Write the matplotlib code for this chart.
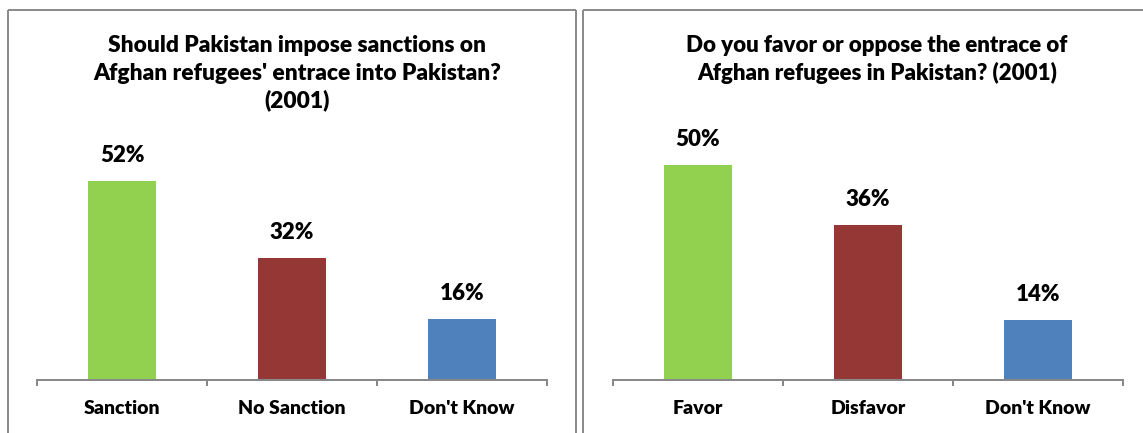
import matplotlib
matplotlib.use("Agg")
import matplotlib.pyplot as plt
from matplotlib.lines import Line2D

# ---- data -------------------------------------------------------------
left_title = ["Should Pakistan impose sanctions on",
              "Afghan refugees' entrace into Pakistan?",
              "(2001)"]
left_categories = ["Sanction", "No Sanction", "Don't Know"]
left_values = [52, 32, 16]

right_title = ["Do you favor or oppose the entrace of",
               "Afghan refugees in Pakistan? (2001)"]
right_categories = ["Favor", "Disfavor", "Don't Know"]
right_values = [50, 36, 14]

bar_colors = ["#92D050", "#953735", "#4F81BD"]

# ---- figure setup -----------------------------------------------------
W, H, DPI = 1143, 433, 100
plt.rcParams["font.family"] = ["Lato", "DejaVu Sans"]
WEIGHT = "heavy"
fig = plt.figure(figsize=(W / DPI, H / DPI), dpi=DPI)
fig.patch.set_facecolor("white")

PT = 72.0 / DPI  # pixels -> points
BORDER = "#8C8C8C"
AXIS = "#888888"


def fx(px):
    return px / W


def fy(py_from_top):
    return 1 - py_from_top / H


def panel_border(x0, x1):
    kw = dict(transform=fig.transFigure, color=BORDER, lw=2 * PT,
              solid_capstyle="butt")
    fig.add_artist(Line2D([fx(x0), fx(x0)], [fy(10), fy(H + 5)], **kw))
    fig.add_artist(Line2D([fx(x0), fx(x1)], [fy(10), fy(10)], **kw))
    fig.add_artist(Line2D([fx(x1), fx(x1)], [fy(10), fy(H + 5)], **kw))


def panel(ax_left_px, px_per_unit, ymax, cats, vals, title_lines, title_cx,
          title_size):
    base_px = 380
    height_px = ymax * px_per_unit
    ax = fig.add_axes([fx(ax_left_px), fy(base_px), 510 / W, height_px / H])
    x = list(range(len(cats)))
    ax.bar(x, vals, width=0.4, color=bar_colors, zorder=2)
    ax.set_xlim(-0.5, len(cats) - 0.5)
    ax.set_ylim(0, ymax)
    for s in ("top", "right", "left"):
        ax.spines[s].set_visible(False)
    ax.spines["bottom"].set_color(AXIS)
    ax.spines["bottom"].set_linewidth(2 * PT)
    ax.set_yticks([])
    ax.set_xticks([i - 0.5 for i in range(len(cats) + 1)])
    ax.set_xticklabels([])
    ax.tick_params(axis="x", direction="out", length=6 * PT,
                   width=2 * PT, color=AXIS)
    ax.patch.set_alpha(0)
    for i, (c, v) in enumerate(zip(cats, vals)):
        ax.annotate(f"{v}%", xy=(i, v), xytext=(0, 19 * PT),
                    textcoords="offset points", ha="center", va="baseline",
                    fontsize=16, fontweight=WEIGHT, color="black")
        ax.annotate(c, xy=(i, 0), xycoords=("data", "axes fraction"),
                    xytext=(0, -34 * PT), textcoords="offset points",
                    ha="center", va="baseline", fontsize=14,
                    fontweight=WEIGHT, color="black")
    for k, line in enumerate(title_lines):
        fig.text(fx(title_cx), fy(52 + 27.7 * k), line, ha="center",
                 va="baseline", fontsize=title_size, fontweight=WEIGHT,
                 color="black")
    return ax


panel_border(8, 576)
panel_border(583, 1171)

panel(37, 3.82, 60, left_categories, left_values, left_title, 297, 16.4)
panel(613, 4.3, 55, right_categories, right_values, right_title, 877, 16.0)

fig.savefig("out.png", dpi=DPI)
